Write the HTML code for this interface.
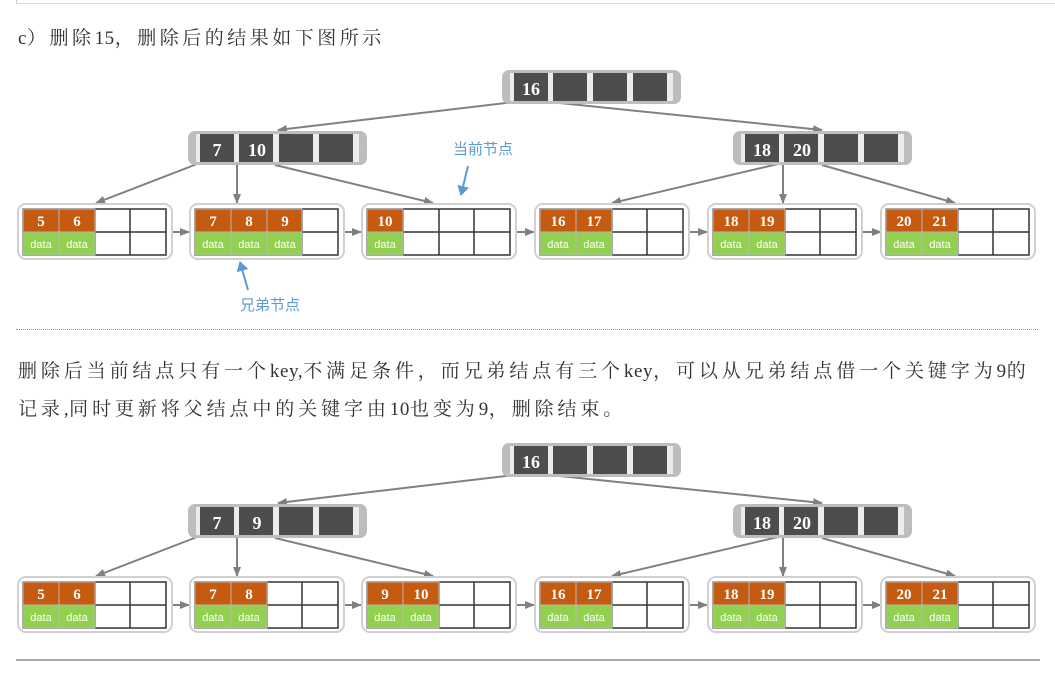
<!DOCTYPE html>
<html><head><meta charset="utf-8"><style>
html,body{margin:0;padding:0;background:#fff;}
body{width:1055px;height:674px;position:relative;overflow:hidden;font-family:"Liberation Serif","Noto Serif CJK SC",serif;}
.t{position:absolute;left:18px;font-size:19px;color:#333;letter-spacing:3.9px;white-space:nowrap;line-height:24px;}
.t b{font-weight:normal;letter-spacing:0.6px;}
svg{position:absolute;left:0;top:0;}
</style></head><body>
<div style="position:absolute;left:16px;top:0;width:1039px;height:3px;border-left:1px solid #ccc;border-bottom:1px solid #ddd;"></div>
<div class="t" style="top:27px;letter-spacing:3.5px;"><b>c</b>）删除<b>15</b>，删除后的结果如下图所示</div>
<div style="position:absolute;left:16px;top:329px;width:1022px;border-top:1px dotted #8db040;"></div>
<div class="t" style="top:360px;">删除后当前结点只有一个<b>key,</b>不满足条件，而兄弟结点有三个<b>key</b>，可以从兄弟结点借一个关键字为<b>9</b>的</div>
<div class="t" style="top:398px;">记录<b>,</b>同时更新将父结点中的关键字由<b>10</b>也变为<b>9</b>，删除结束。</div>
<div style="position:absolute;left:16px;top:659px;width:1024px;border-top:2px solid #aaa;"></div>
<svg width="1055" height="674" xmlns="http://www.w3.org/2000/svg" font-family="Liberation Serif, serif">
<defs>
<marker id="ah" markerWidth="10" markerHeight="10" refX="9" refY="5" orient="auto" markerUnits="userSpaceOnUse"><path d="M0,1 L10,5 L0,9 z" fill="#808080"/></marker>
<marker id="bh" markerWidth="10" markerHeight="12" refX="9" refY="6" orient="auto" markerUnits="userSpaceOnUse"><path d="M0,0 L10,6 L0,12 z" fill="#5b9bd5"/></marker>
<g id="leaf">
<rect x="0" y="0" width="154" height="55" rx="8" fill="#fff" stroke="#d0d0d0" stroke-width="2"/>
<rect x="5" y="5" width="143" height="46" fill="#fff" stroke="#333" stroke-width="1.5"/>
<line x1="5" y1="28" x2="148" y2="28" stroke="#333" stroke-width="1.5"/>
<line x1="41" y1="5" x2="41" y2="51" stroke="#333" stroke-width="1.5"/>
<line x1="77" y1="5" x2="77" y2="51" stroke="#333" stroke-width="1.5"/>
<line x1="112" y1="5" x2="112" y2="51" stroke="#333" stroke-width="1.5"/>
</g>
<g id="inode">
<rect x="0" y="0" width="179" height="34" rx="7" fill="#bdbdbd"/>
<rect x="8" y="3" width="163" height="28" fill="#ececec"/>
<rect x="12" y="3" width="34" height="28" fill="#4d4d4d"/>
<rect x="51" y="3" width="34" height="28" fill="#4d4d4d"/>
<rect x="91" y="3" width="34" height="28" fill="#4d4d4d"/>
<rect x="131" y="3" width="34" height="28" fill="#4d4d4d"/>
</g>
</defs>

<g>
<g stroke="#808080" stroke-width="2" fill="none" marker-end="url(#ah)">
<line x1="514" y1="102" x2="278" y2="130"/>
<line x1="550" y1="102" x2="822" y2="130"/>
<line x1="197" y1="164" x2="96" y2="203"/>
<line x1="237" y1="165" x2="237" y2="203"/>
<line x1="275" y1="165" x2="433" y2="203"/>
<line x1="778" y1="164" x2="612" y2="203"/>
<line x1="783" y1="165" x2="783" y2="203"/>
<line x1="822" y1="165" x2="955" y2="203"/>
<line x1="172" y1="232" x2="189" y2="232"/>
<line x1="344" y1="232" x2="361" y2="232"/>
<line x1="516" y1="232" x2="534" y2="232"/>
<line x1="689" y1="232" x2="707" y2="232"/>
<line x1="862" y1="232" x2="881" y2="232"/>
</g>
<use href="#inode" x="502" y="70"/>
<use href="#inode" x="188" y="131"/>
<use href="#inode" x="733" y="131"/>
<g fill="#fff" font-weight="bold" font-size="18" text-anchor="middle">
<text x="531" y="95">16</text>
<text x="217" y="156">7</text>
<text x="257" y="156">10</text>
<text x="762" y="156">18</text>
<text x="802" y="156">20</text>
</g>
</g>

<g transform="translate(0,373)">
<g stroke="#808080" stroke-width="2" fill="none" marker-end="url(#ah)">
<line x1="514" y1="102" x2="278" y2="130"/>
<line x1="550" y1="102" x2="822" y2="130"/>
<line x1="197" y1="164" x2="96" y2="203"/>
<line x1="237" y1="165" x2="237" y2="203"/>
<line x1="275" y1="165" x2="433" y2="203"/>
<line x1="778" y1="164" x2="612" y2="203"/>
<line x1="783" y1="165" x2="783" y2="203"/>
<line x1="822" y1="165" x2="955" y2="203"/>
<line x1="172" y1="232" x2="189" y2="232"/>
<line x1="344" y1="232" x2="361" y2="232"/>
<line x1="516" y1="232" x2="534" y2="232"/>
<line x1="689" y1="232" x2="707" y2="232"/>
<line x1="862" y1="232" x2="881" y2="232"/>
</g>
<use href="#inode" x="502" y="70"/>
<use href="#inode" x="188" y="131"/>
<use href="#inode" x="733" y="131"/>
<g fill="#fff" font-weight="bold" font-size="18" text-anchor="middle">
<text x="531" y="95">16</text>
<text x="217" y="156">7</text>
<text x="257" y="156">9</text>
<text x="762" y="156">18</text>
<text x="802" y="156">20</text>
</g>
</g>

<g>
<use href="#leaf" x="18" y="204"/><use href="#leaf" x="190" y="204"/><use href="#leaf" x="362" y="204"/>
<use href="#leaf" x="535" y="204"/><use href="#leaf" x="708" y="204"/><use href="#leaf" x="881" y="204"/>
<use href="#leaf" x="18" y="577"/><use href="#leaf" x="190" y="577"/><use href="#leaf" x="362" y="577"/>
<use href="#leaf" x="535" y="577"/><use href="#leaf" x="708" y="577"/><use href="#leaf" x="881" y="577"/>
</g>

<g stroke="#b8b8b8" stroke-width="1">
<g fill="#c55a11">
<rect x="23" y="209" width="36" height="23"/><rect x="59" y="209" width="36" height="23"/>
<rect x="195" y="209" width="36" height="23"/><rect x="231" y="209" width="36" height="23"/><rect x="267" y="209" width="35" height="23"/>
<rect x="367" y="209" width="36" height="23"/>
<rect x="540" y="209" width="36" height="23"/><rect x="576" y="209" width="36" height="23"/>
<rect x="713" y="209" width="36" height="23"/><rect x="749" y="209" width="36" height="23"/>
<rect x="886" y="209" width="36" height="23"/><rect x="922" y="209" width="36" height="23"/>
</g>
<g fill="#92d050">
<rect x="23" y="232" width="36" height="23"/><rect x="59" y="232" width="36" height="23"/>
<rect x="195" y="232" width="36" height="23"/><rect x="231" y="232" width="36" height="23"/><rect x="267" y="232" width="35" height="23"/>
<rect x="367" y="232" width="36" height="23"/>
<rect x="540" y="232" width="36" height="23"/><rect x="576" y="232" width="36" height="23"/>
<rect x="713" y="232" width="36" height="23"/><rect x="749" y="232" width="36" height="23"/>
<rect x="886" y="232" width="36" height="23"/><rect x="922" y="232" width="36" height="23"/>
</g>
<g fill="#c55a11">
<rect x="23" y="582" width="36" height="23"/><rect x="59" y="582" width="36" height="23"/>
<rect x="195" y="582" width="36" height="23"/><rect x="231" y="582" width="36" height="23"/>
<rect x="367" y="582" width="36" height="23"/><rect x="403" y="582" width="36" height="23"/>
<rect x="540" y="582" width="36" height="23"/><rect x="576" y="582" width="36" height="23"/>
<rect x="713" y="582" width="36" height="23"/><rect x="749" y="582" width="36" height="23"/>
<rect x="886" y="582" width="36" height="23"/><rect x="922" y="582" width="36" height="23"/>
</g>
<g fill="#92d050">
<rect x="23" y="605" width="36" height="23"/><rect x="59" y="605" width="36" height="23"/>
<rect x="195" y="605" width="36" height="23"/><rect x="231" y="605" width="36" height="23"/>
<rect x="367" y="605" width="36" height="23"/><rect x="403" y="605" width="36" height="23"/>
<rect x="540" y="605" width="36" height="23"/><rect x="576" y="605" width="36" height="23"/>
<rect x="713" y="605" width="36" height="23"/><rect x="749" y="605" width="36" height="23"/>
<rect x="886" y="605" width="36" height="23"/><rect x="922" y="605" width="36" height="23"/>
</g>
</g>

<g fill="#fff" font-weight="bold" font-size="15" text-anchor="middle">
<text x="41" y="226">5</text><text x="77" y="226">6</text>
<text x="213" y="226">7</text><text x="249" y="226">8</text><text x="285" y="226">9</text>
<text x="385" y="226">10</text>
<text x="558" y="226">16</text><text x="594" y="226">17</text>
<text x="731" y="226">18</text><text x="767" y="226">19</text>
<text x="904" y="226">20</text><text x="940" y="226">21</text>
<text x="41" y="599">5</text><text x="77" y="599">6</text>
<text x="213" y="599">7</text><text x="249" y="599">8</text>
<text x="385" y="599">9</text><text x="421" y="599">10</text>
<text x="558" y="599">16</text><text x="594" y="599">17</text>
<text x="731" y="599">18</text><text x="767" y="599">19</text>
<text x="904" y="599">20</text><text x="940" y="599">21</text>
</g>
<g fill="#fff" font-family="Liberation Sans, sans-serif" font-size="11" text-anchor="middle">
<text x="41" y="248">data</text><text x="77" y="248">data</text>
<text x="213" y="248">data</text><text x="249" y="248">data</text><text x="285" y="248">data</text>
<text x="385" y="248">data</text>
<text x="558" y="248">data</text><text x="594" y="248">data</text>
<text x="731" y="248">data</text><text x="767" y="248">data</text>
<text x="904" y="248">data</text><text x="940" y="248">data</text>
<text x="41" y="621">data</text><text x="77" y="621">data</text>
<text x="213" y="621">data</text><text x="249" y="621">data</text>
<text x="385" y="621">data</text><text x="421" y="621">data</text>
<text x="558" y="621">data</text><text x="594" y="621">data</text>
<text x="731" y="621">data</text><text x="767" y="621">data</text>
<text x="904" y="621">data</text><text x="940" y="621">data</text>
</g>

<g font-family="Liberation Sans, Noto Sans CJK SC, sans-serif" font-size="15" fill="#5b9bd5">
<text x="453" y="154">当前节点</text>
<text x="240" y="310">兄弟节点</text>
</g>
<line x1="468" y1="166" x2="461" y2="195" stroke="#5b9bd5" stroke-width="2" marker-end="url(#bh)"/>
<line x1="248" y1="290" x2="240" y2="262" stroke="#5b9bd5" stroke-width="2" marker-end="url(#bh)"/>
</svg>
</body></html>
